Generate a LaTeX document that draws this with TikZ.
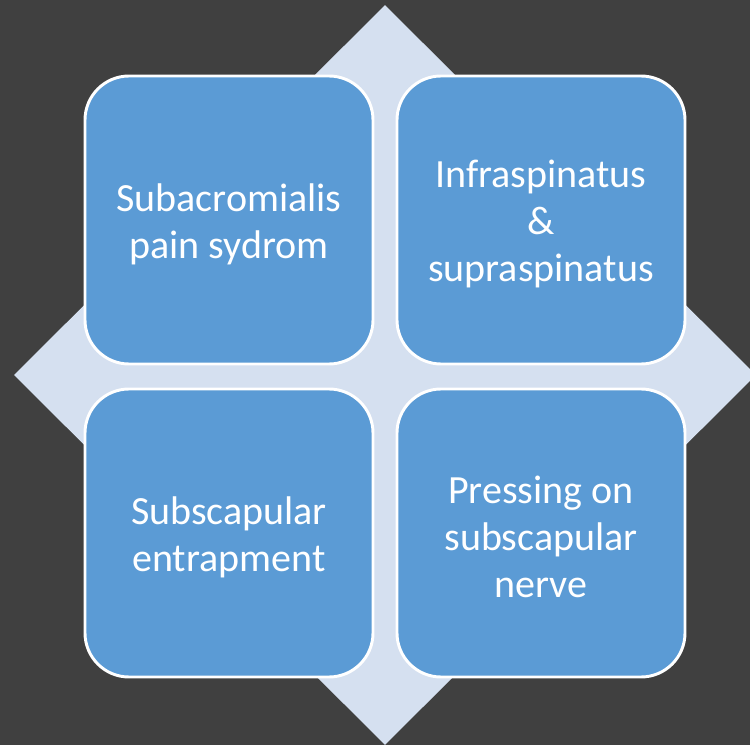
\documentclass[tikz,border=0pt]{standalone}
\usepackage{fontspec}
\setmainfont{Carlito}
\usepackage{tikz}
\usetikzlibrary{positioning,shapes.geometric}
\definecolor{slatebg}{RGB}{64,64,64}
\definecolor{diamondblue}{RGB}{213,224,240}
\definecolor{boxblue}{RGB}{91,155,213}

\begin{document}
\begin{tikzpicture}[x=0.75pt,y=-0.75pt,
  tile/.style={draw=white,line width=2.2pt,fill=boxblue,rounded corners=33pt,
               minimum width=216pt,minimum height=216pt,inner sep=0pt,align=center,
               text=white,font=\fontsize{30}{35.3}\selectfont},
  back/.style={diamond,fill=diamondblue,inner sep=0pt,minimum width=556.5pt,minimum height=555pt}]
  \fill[slatebg] (0,0) rectangle (750,745);
  \useasboundingbox (0,0) rectangle (750,745);
  \clip (0,0) rectangle (750,745);
  \node[back] (diam) at (385,375) {};
  \node[tile] (tl) at (229,220) {\rule{0pt}{27pt}Subacromialis\\pain sydrom};
  \node[tile] (tr) at (541,220) {\rule{0pt}{27pt}Infraspinatus\\\&\\supraspinatus};
  \node[tile] (bl) at (229,533) {\rule{0pt}{27pt}Subscapular\\entrapment};
  \node[tile] (br) at (541,533) {\rule{0pt}{27pt}Pressing on\\subscapular\\nerve};
\end{tikzpicture}
\end{document}
